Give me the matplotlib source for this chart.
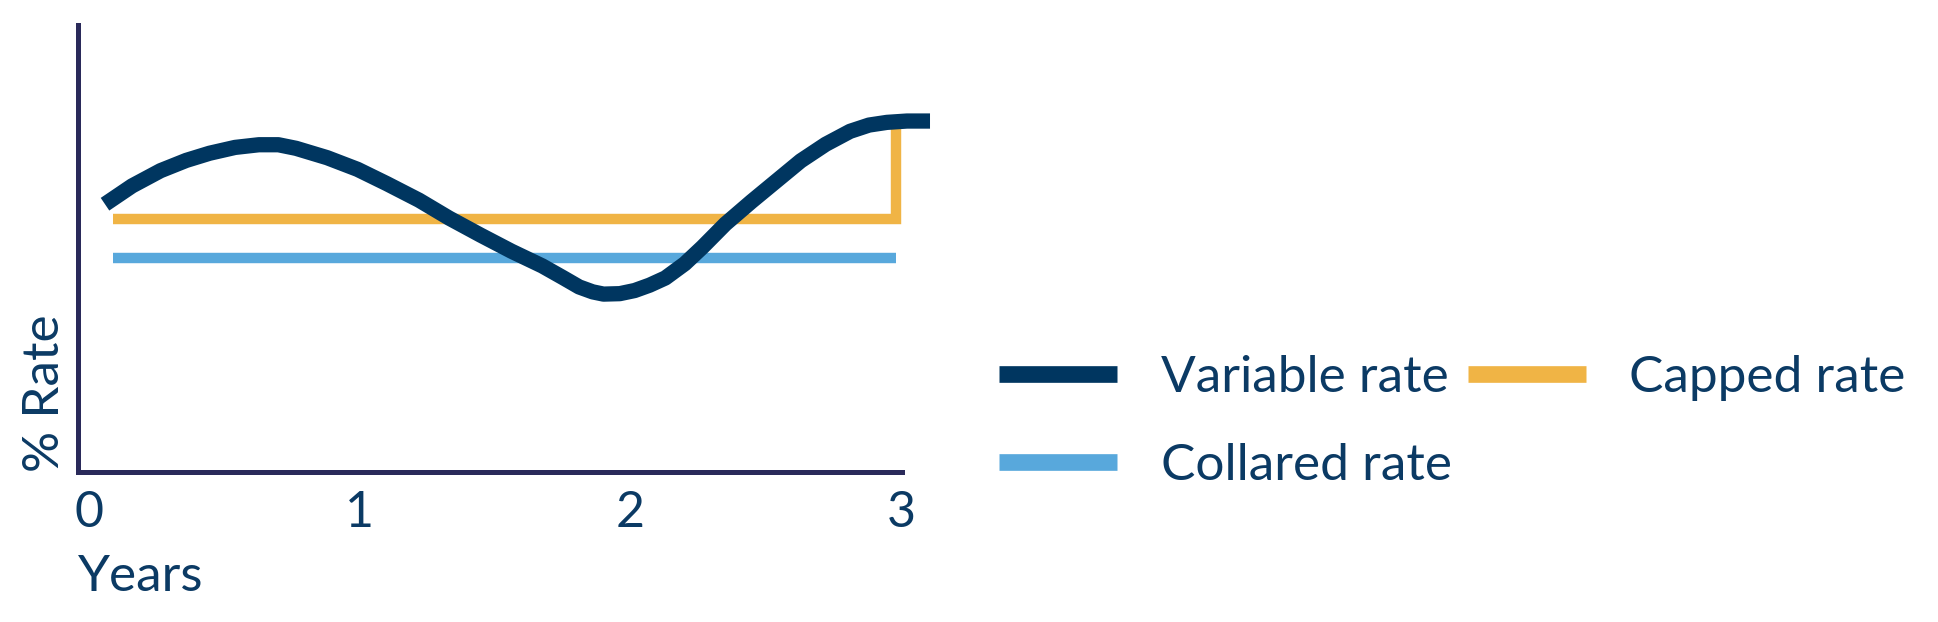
import matplotlib
matplotlib.use("Agg")
from matplotlib import pyplot as plt

plt.rcParams['font.family'] = ['Lato', 'DejaVu Sans']

# Data (y in arbitrary % units 0..10)
years = [0.06, 0.16, 0.265, 0.36, 0.446, 0.54, 0.628, 0.70, 0.765, 0.88, 0.992, 1.10,
         1.219, 1.33, 1.446, 1.56, 1.674, 1.75, 1.81, 1.86, 1.90, 1.96, 2.015, 2.07,
         2.128, 2.20, 2.265, 2.35, 2.446, 2.54, 2.628, 2.72, 2.81, 2.88, 2.946, 3.02, 3.105]
variable_rate = [5.99, 6.40, 6.74, 6.97, 7.13, 7.26, 7.32, 7.32, 7.24, 7.03, 6.77, 6.45,
                 6.08, 5.68, 5.30, 4.94, 4.61, 4.35, 4.14, 4.03, 3.98, 3.99, 4.06, 4.18,
                 4.34, 4.66, 5.03, 5.55, 6.05, 6.52, 6.96, 7.33, 7.62, 7.76, 7.82, 7.85, 7.85]

capped_x = [0.09, 2.98, 2.98]
capped_y = [5.66, 5.66, 7.79]

collared_x = [0.09, 2.98]
collared_y = [4.78, 4.78]

tick_vals = [0, 1, 2, 3]
tick_labels = ['0', '1', '2', '3']

navy = '#003660'
text_c = '#0b3a64'
axis_c = '#2a2a5a'
gold = '#f0b445'
blue = '#58a8dc'

fig = plt.figure(figsize=(19.38, 6.22), dpi=100)
ax = fig.add_axes([0.0402, 0.241, 0.425, 0.719])

ax.plot(collared_x, collared_y, color=blue, lw=7.5, solid_capstyle='butt', label='Collared rate')
ax.plot(capped_x, capped_y, color=gold, lw=7.5, solid_capstyle='butt', solid_joinstyle='miter',
        label='Capped rate')
ax.plot(years, variable_rate, color=navy, lw=11, solid_capstyle='butt', clip_on=False,
        label='Variable rate', zorder=3)

ax.set_xlim(-0.04, 2.99)
ax.set_ylim(0, 10)
ax.set_xticks(tick_vals)
ax.set_xticklabels(tick_labels)
ax.set_yticks([])
ax.tick_params(axis='x', length=0, pad=13, labelsize=36, labelcolor=text_c)

for s in ['top', 'right']:
    ax.spines[s].set_visible(False)
for s in ['left', 'bottom']:
    ax.spines[s].set_color(axis_c)
    ax.spines[s].set_linewidth(3.6)

fig.text(0.0402, 0.05, 'Years', fontsize=37, color=text_c, ha='left', va='baseline')
fig.text(0.023, 0.241, '% Rate', fontsize=37, color=text_c, rotation=90, ha='center', va='bottom')

# column-first fill: Variable / Collared in col 1, Capped in col 2
handles, labels = ax.get_legend_handles_labels()
order = [2, 0, 1]
leg = fig.legend([handles[i] for i in order], [labels[i] for i in order],
                 loc='upper left', bbox_to_anchor=(0.505, 0.463), ncol=2, frameon=False,
                 fontsize=37, handlelength=2.3, handletextpad=0.85, columnspacing=0.3,
                 labelspacing=0.82, borderaxespad=0)
for t in leg.get_texts():
    t.set_color(text_c)
for h in leg.get_lines():
    h.set_linewidth(12)

fig.savefig('out.png', dpi=100)
